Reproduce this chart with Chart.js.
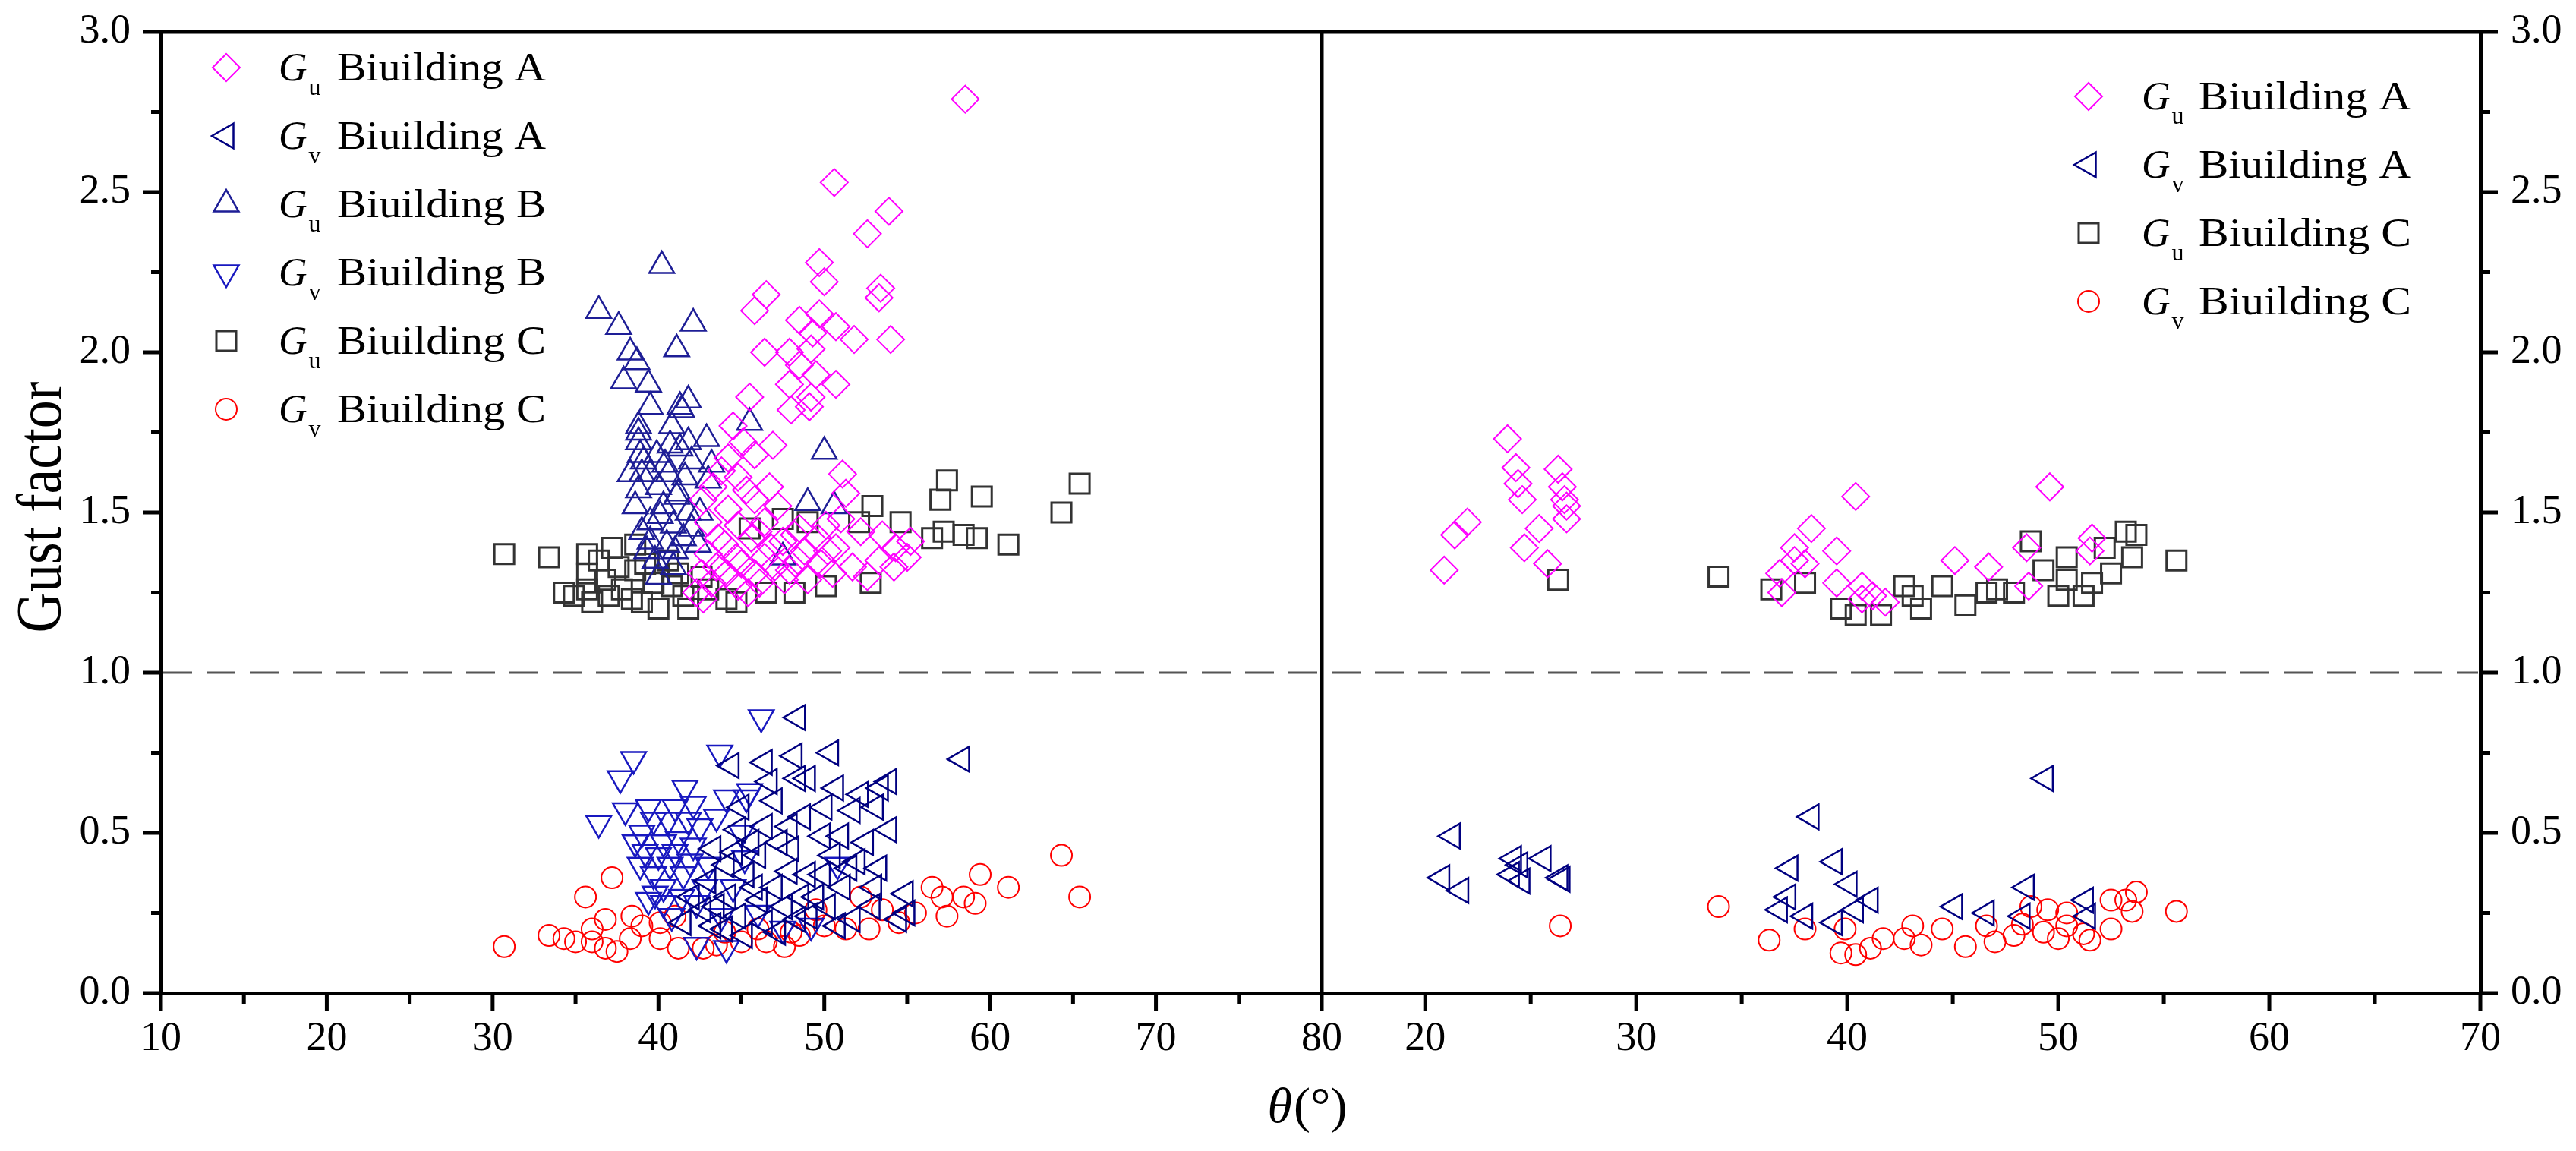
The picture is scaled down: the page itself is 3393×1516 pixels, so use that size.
<!DOCTYPE html>
<html><head><meta charset="utf-8">
<script src="https://cdn.jsdelivr.net/npm/chart.js@4.4.1/dist/chart.umd.min.js"></script>
<style>
html,body{margin:0;padding:0;background:#fff;width:3393px;height:1516px;overflow:hidden}
canvas{position:absolute;left:0;top:0}
</style></head>
<body>
<canvas id="cLeft" width="3393" height="1516"></canvas>
<canvas id="cRight" width="3393" height="1516"></canvas>
<script>
// ---------------- DATA ----------------
const leftXTicks = [10, 20, 30, 40, 50, 60, 70, 80];
const leftXMinor = [15, 25, 35, 45, 55, 65, 75];
const rightXTicks = [20, 30, 40, 50, 60, 70];
const rightXMinor = [25, 35, 45, 55, 65];
const yTicks = [0, 0.5, 1.0, 1.5, 2.0, 2.5, 3.0];
const yMinor = [0.25, 0.75, 1.25, 1.75, 2.25, 2.75];
const leftXRange = [10, 80];
const rightXRange = [15.1, 70];
const yRange = [0, 3];
const refValue = 1.0;
const yTitle = "Gust factor";
const xTitleSym = "\u03B8";
const xTitleUnit = "(\u00B0)";

const legendLeft = [["u", "Biuilding A"], ["v", "Biuilding A"], ["u", "Biuilding B"], ["v", "Biuilding B"], ["u", "Biuilding C"], ["v", "Biuilding C"]];
const legendRight = [["u", "Biuilding A"], ["v", "Biuilding A"], ["u", "Biuilding C"], ["v", "Biuilding C"]];

// Left panel: [theta, gust factor]
const L_GuA = [
 [58.5,2.79],[50.6,2.53],[53.9,2.44],[52.6,2.37],[49.7,2.28],[50.0,2.22],[53.4,2.20],[53.3,2.17],[46.5,2.18],[45.8,2.13],
 [49.7,2.12],[50.7,2.08],[48.5,2.10],[51.8,2.04],[54.0,2.04],[49.3,2.06],[46.4,2.00],[47.9,2.00],[49.2,2.01],[48.5,1.96],
 [49.5,1.93],[50.7,1.90],[47.9,1.90],[45.5,1.86],[49.2,1.86],[48.0,1.82],[49.1,1.83],[44.5,1.77],[46.9,1.71],[45.1,1.72],
 [51.1,1.62],[45.8,1.68],[44.2,1.67],[44.8,1.61],[46.7,1.58],[43.3,1.58],[42.7,1.54],[45.8,1.54],[44.2,1.51],[43.0,1.47],
 [44.8,1.46],[46.4,1.47],[48.5,1.45],[50.1,1.46],[43.6,1.42],[45.6,1.42],[47.5,1.41],[49.6,1.42],[43.0,1.37],[44.7,1.36],
 [46.4,1.36],[48.4,1.35],[42.6,1.31],[44.1,1.31],[45.8,1.31],[47.9,1.32],[42.7,1.23],[44.8,1.27],[46.1,1.28],[42.3,1.25],
 [50.2,1.38],[51.3,1.56],[52.2,1.44],[53.5,1.43],[55.2,1.41],[54.3,1.39],[55.0,1.36],[50.7,1.39],[53.3,1.35],[51.7,1.33],
 [54.2,1.33],[50.5,1.31],[52.6,1.30],[43.8,1.63],[45.3,1.57],[47.2,1.52],[46.0,1.44],[47.0,1.33],[48.8,1.38],[49.0,1.29],
 [51.0,1.48],[44.0,1.40],[43.2,1.28],[45.0,1.34],[46.8,1.39],[48.2,1.43],[43.5,1.33],[47.6,1.29],[49.8,1.34],[45.4,1.25]
];
const L_GvA = [
 [48.4,0.86],[44.4,0.71],[48.2,0.74],[46.4,0.72],[46.7,0.66],[48.4,0.67],[46.4,0.52],[47.9,0.52],[44.8,0.51],[43.3,0.45],
 [45.6,0.47],[48.0,0.45],[44.1,0.40],[45.3,0.37],[47.9,0.38],[43.0,0.35],[44.2,0.30],[46.1,0.29],[47.6,0.27],[42.7,0.26],
 [44.8,0.24],[46.4,0.22],[48.4,0.23],[43.3,0.21],[45.2,0.18],[50.4,0.75],[58.3,0.73],[53.9,0.66],[53.4,0.64],[50.7,0.64],
 [49.0,0.67],[51.7,0.57],[53.1,0.58],[53.9,0.51],[49.9,0.49],[51.0,0.49],[48.7,0.55],[52.0,0.41],[53.3,0.39],[49.9,0.37],
 [51.1,0.33],[54.9,0.31],[52.9,0.27],[54.5,0.23],[50.2,0.27],[49.1,0.24],[51.7,0.23],[49.0,0.37],[45.0,0.58],[47.0,0.60],
 [46.0,0.43],[47.0,0.33],[42.0,0.30],[43.5,0.27],[50.5,0.43],[52.5,0.47],[49.5,0.30],[53.0,0.33],[55.0,0.25],[41.5,0.22],
 [44.0,0.20],[47.3,0.47],[50.0,0.58],[52.2,0.62],[45.8,0.33],[48.6,0.30],[51.5,0.39],[44.6,0.44],[50.8,0.21],[47.2,0.19]
];
const L_GuB = [
 [40.2,2.27],[36.4,2.13],[37.6,2.08],[42.1,2.09],[41.1,2.01],[38.3,2.00],[38.7,1.97],[37.9,1.91],[39.4,1.90],[39.5,1.83],
 [41.3,1.83],[41.8,1.85],[38.8,1.77],[40.8,1.77],[42.9,1.73],[38.8,1.72],[39.9,1.68],[41.3,1.70],[39.0,1.62],[40.6,1.62],
 [50.0,1.69],[45.5,1.78],[38.8,1.57],[41.1,1.55],[49.0,1.53],[50.6,1.52],[41.4,1.82],[38.8,1.75],[40.7,1.71],[41.8,1.72],
 [39.1,1.66],[40.4,1.65],[42.0,1.66],[43.2,1.65],[39.5,1.62],[41.2,1.56],[40.0,1.58],[38.6,1.52],[40.3,1.52],[39.5,1.47],
 [40.9,1.46],[39.5,1.41],[41.5,1.42],[39.8,1.35],[47.5,1.36],[40.0,1.30],[41.0,1.38],[42.0,1.45],[43.0,1.60],[42.5,1.50],
 [39.0,1.44],[40.5,1.40],[41.8,1.50],[38.3,1.62],[40.1,1.49],[41.6,1.61],[39.3,1.38],[42.4,1.40],[38.9,1.68],[40.9,1.33]
];
const L_GvB = [
 [46.2,0.86],[38.5,0.73],[37.7,0.67],[43.7,0.75],[41.6,0.64],[44.1,0.61],[45.3,0.61],[36.4,0.53],[38.0,0.57],[39.4,0.58],
 [41.0,0.58],[42.1,0.59],[41.8,0.54],[40.6,0.54],[39.7,0.54],[38.6,0.47],[40.3,0.47],[41.2,0.48],[42.1,0.46],[38.9,0.40],
 [39.7,0.37],[40.7,0.40],[41.5,0.37],[39.4,0.29],[40.3,0.33],[41.4,0.30],[42.3,0.15],[44.1,0.14],[42.3,0.28],[40.3,0.28],
 [50.8,0.40],[49.2,0.21],[45.5,0.63],[43.0,0.40],[44.5,0.33],[46.0,0.25],[47.5,0.20],[45.0,0.50],[39.0,0.50],[40.0,0.43],
 [42.5,0.52],[43.5,0.55],[39.2,0.44],[41.0,0.44],[42.8,0.33],[43.8,0.24],[40.8,0.24],[45.2,0.42],[41.9,0.41],[39.8,0.31]
];
const L_GuC = [
 [30.7,1.37],[33.4,1.36],[34.3,1.25],[35.7,1.37],[37.2,1.39],[36.0,1.22],[35.7,1.31],[36.8,1.29],[35.7,1.26],[37.0,1.24],
 [38.6,1.40],[38.6,1.32],[38.4,1.23],[40.0,1.20],[41.2,1.31],[41.8,1.20],[39.7,1.28],[44.7,1.22],[44.1,1.23],[48.2,1.25],
 [50.1,1.27],[47.5,1.48],[42.6,1.30],[40.6,1.35],[37.8,1.26],[52.9,1.52],[57.4,1.60],[57.0,1.54],[59.5,1.55],[65.4,1.59],
 [64.3,1.50],[54.6,1.47],[52.1,1.47],[57.2,1.44],[58.4,1.43],[59.2,1.42],[56.5,1.42],[61.1,1.40],[52.8,1.28],[39.2,1.34],
 [40.8,1.27],[43.0,1.26],[34.9,1.24],[46.5,1.25],[45.5,1.45],[49.0,1.47],[37.6,1.33],[39.0,1.22],[36.4,1.35],[41.5,1.24]
];
const L_GvC = [
 [30.7,0.145],[37.2,0.36],[35.6,0.30],[33.4,0.18],[34.3,0.17],[36.0,0.20],[36.8,0.23],[38.4,0.24],[36.8,0.14],[37.5,0.13],
 [36.0,0.16],[38.3,0.17],[39.0,0.21],[40.1,0.22],[40.1,0.17],[41.2,0.14],[42.7,0.14],[43.5,0.15],[45.0,0.16],[46.5,0.16],
 [47.6,0.145],[48.0,0.19],[41.0,0.24],[56.5,0.33],[57.1,0.30],[57.4,0.24],[58.4,0.30],[59.1,0.28],[59.4,0.37],[61.1,0.33],
 [64.3,0.43],[65.4,0.30],[51.3,0.20],[52.7,0.20],[52.2,0.30],[54.5,0.22],[48.5,0.18],[50.0,0.21],[44.0,0.19],[46.0,0.20],
 [49.5,0.26],[55.5,0.25],[53.5,0.26],[35.0,0.16]
];

// Right panel
const R_GuA = [
 [23.9,1.73],[24.3,1.64],[24.4,1.59],[24.6,1.54],[26.3,1.635],[26.5,1.58],[26.6,1.54],[26.7,1.52],[26.7,1.48],[25.4,1.45],
 [24.7,1.39],[25.8,1.34],[22.0,1.47],[20.9,1.32],[21.4,1.43],[40.4,1.55],[38.3,1.45],[37.5,1.39],[39.5,1.38],[37.5,1.35],
 [38.0,1.34],[36.8,1.31],[36.9,1.25],[39.5,1.28],[40.7,1.27],[40.7,1.23],[41.2,1.24],[41.8,1.22],[45.1,1.35],[46.7,1.33],
 [49.6,1.58],[48.5,1.39],[48.6,1.27],[51.6,1.42],[51.5,1.38]
];
const R_GvA = [
 [49.4,0.67],[38.3,0.55],[37.3,0.39],[39.4,0.41],[37.2,0.30],[36.8,0.26],[38.0,0.24],[40.1,0.34],[41.1,0.29],[40.4,0.26],
 [39.4,0.22],[45.1,0.27],[46.6,0.25],[48.5,0.33],[48.3,0.24],[51.3,0.29],[51.4,0.24],[21.3,0.49],[20.8,0.36],[21.7,0.32],
 [24.2,0.42],[24.5,0.40],[25.6,0.42],[26.4,0.36],[24.1,0.37],[24.6,0.35],[26.5,0.355]
];
const R_GuC = [
 [26.3,1.29],[33.9,1.30],[36.4,1.26],[38.0,1.28],[39.7,1.20],[40.4,1.18],[41.6,1.18],[42.7,1.27],[43.1,1.24],[43.5,1.20],
 [44.5,1.27],[45.6,1.21],[46.6,1.25],[47.1,1.26],[47.9,1.25],[48.7,1.41],[49.3,1.32],[50.0,1.24],[50.4,1.36],[50.4,1.29],
 [51.2,1.24],[52.2,1.39],[52.5,1.31],[53.2,1.44],[53.7,1.43],[53.5,1.36],[55.6,1.35],[51.6,1.28]
];
const R_GvC = [
 [26.4,0.21],[33.9,0.27],[36.3,0.165],[38.0,0.20],[39.7,0.125],[40.4,0.12],[41.1,0.14],[39.9,0.20],[41.7,0.17],[42.7,0.17],
 [43.1,0.21],[43.5,0.15],[44.5,0.20],[45.6,0.145],[46.6,0.21],[47.0,0.16],[47.9,0.18],[48.3,0.215],[48.7,0.27],[49.3,0.19],
 [49.5,0.26],[50.0,0.17],[50.4,0.25],[50.4,0.21],[51.2,0.185],[51.5,0.165],[52.5,0.20],[52.5,0.29],[53.2,0.29],[53.5,0.255],
 [53.7,0.315],[55.6,0.255]
];

// ---------------- STYLE / LAYOUT ----------------
const W = 3393, H = 1516;
const PLOT = {left: 212, mid: 1741, right: 3267, top: 42, bottom: 1308};
const FONT = "'Liberation Serif', 'Times New Roman', serif";
const STY = {
  GuA: {pointStyle: 'rectRot', radius: 18, rotation: 0, color: '#FF00FF', width: 2},
  GvA: {pointStyle: 'triangle', radius: 19, rotation: 270, color: '#000080', width: 2.5},
  GuB: {pointStyle: 'triangle', radius: 19, rotation: 0, color: '#1E1E96', width: 2.5},
  GvB: {pointStyle: 'triangle', radius: 19, rotation: 180, color: '#1818C0', width: 2.5},
  GuC: {pointStyle: 'rect', radius: 18.4, rotation: 0, color: '#333333', width: 3},
  GvC: {pointStyle: 'circle', radius: 14, rotation: 0, color: '#FF0000', width: 2}
};
const toXY = a => a.map(p => ({x: p[0], y: p[1]}));
function ds(key, arr) {
  const s = STY[key];
  return {label: key, data: toXY(arr), showLine: false, pointStyle: s.pointStyle, pointRadius: s.radius,
    pointHoverRadius: s.radius, pointRotation: s.rotation, borderColor: s.color, backgroundColor: 'rgba(0,0,0,0)',
    pointBorderWidth: s.width, borderWidth: s.width};
}

function drawMarker(ctx, key, x, y) {
  const s = STY[key];
  ctx.save();
  ctx.strokeStyle = s.color; ctx.fillStyle = 'rgba(0,0,0,0)'; ctx.lineWidth = s.width;
  Chart.helpers.drawPoint(ctx, {pointStyle: s.pointStyle, rotation: s.rotation, radius: s.radius, borderWidth: s.width}, x, y);
  ctx.restore();
}

function drawLegend(ctx, keys, items, mx, gx, y0, dy, tx0, tx1) {
  items.forEach((it, i) => {
    const cy = y0 + i * dy;
    drawMarker(ctx, keys[i], mx, cy);
    const base = cy + 17;
    ctx.save();
    ctx.fillStyle = '#000'; ctx.textBaseline = 'alphabetic'; ctx.textAlign = 'left';
    ctx.font = "italic 52px " + FONT;
    ctx.fillText('G', gx, base);
    const gw = ctx.measureText('G').width;
    ctx.font = "32px " + FONT;
    ctx.fillText(it[0], gx + gw + 2, base + 19);
    ctx.font = "52px " + FONT;
    const w = ctx.measureText(it[1]).width;
    const sx = (tx1 - tx0) / w;
    ctx.translate(tx0, base); ctx.scale(sx, 1);
    ctx.fillText(it[1], 0, 0);
    ctx.restore();
  });
}

function drawTicks(chart, xMajor, xMinor, ySide) {
  const ctx = chart.ctx, xs = chart.scales.x, ys = chart.scales.y;
  ctx.save();
  ctx.strokeStyle = '#000'; ctx.lineWidth = 5;
  ctx.beginPath();
  const b = chart.chartArea.bottom;
  xMajor.forEach(v => { const p = xs.getPixelForValue(v); ctx.moveTo(p, b); ctx.lineTo(p, b + 24); });
  xMinor.forEach(v => { const p = xs.getPixelForValue(v); ctx.moveTo(p, b); ctx.lineTo(p, b + 14); });
  const ax = ySide === 'left' ? chart.chartArea.left : chart.chartArea.right;
  const sgn = ySide === 'left' ? -1 : 1;
  yTicks.forEach(v => { const p = ys.getPixelForValue(v); ctx.moveTo(ax, p); ctx.lineTo(ax + sgn * 23, p); });
  yMinor.forEach(v => { const p = ys.getPixelForValue(v); ctx.moveTo(ax, p); ctx.lineTo(ax + sgn * 13, p); });
  ctx.stroke();
  ctx.restore();
}

const tickFont = {family: FONT, size: 54};

function makeScales(xTicks, xRange, ySide) {
  return {
    x: {
      type: 'linear', position: 'bottom', min: xRange[0], max: xRange[1],
      afterBuildTicks: s => { s.ticks = xTicks.map(v => ({value: v})); },
      afterFit: s => { s.height = H - PLOT.bottom; s.paddingLeft = 0; s.paddingRight = 0; s.paddingTop = 0; s.paddingBottom = 0; },
      grid: {display: false, drawTicks: false},
      border: {display: true, color: '#000', width: 5},
      ticks: {padding: 28, font: tickFont, color: '#000', maxRotation: 0, autoSkip: false, callback: v => String(v)}
    },
    y: {
      type: 'linear', position: ySide, min: yRange[0], max: yRange[1],
      afterBuildTicks: s => { s.ticks = yTicks.map(v => ({value: v})); },
      afterFit: s => { s.width = ySide === 'left' ? PLOT.left : (W - PLOT.right); s.paddingTop = 0; s.paddingBottom = 0; s.paddingLeft = 0; s.paddingRight = 0; },
      grid: {display: false, drawTicks: false},
      border: {display: true, color: '#000', width: 5},
      ticks: {padding: 40, font: tickFont, color: '#000', autoSkip: false, callback: v => Number(v).toFixed(1)}
    }
  };
}

const decoLeft = {
  id: 'decoLeft',
  beforeDatasetsDraw(chart) {
    const ctx = chart.ctx, py = chart.scales.y.getPixelForValue(refValue);
    ctx.save();
    ctx.strokeStyle = '#555'; ctx.lineWidth = 3; ctx.setLineDash([38, 19]);
    ctx.beginPath(); ctx.moveTo(PLOT.left + 3, py); ctx.lineTo(PLOT.right - 3, py); ctx.stroke();
    ctx.restore();
  },
  afterDraw(chart) {
    const ctx = chart.ctx;
    const ca = chart.chartArea;
    drawTicks(chart, leftXTicks, leftXMinor, 'left');
    ctx.save();
    ctx.strokeStyle = '#000'; ctx.lineWidth = 5;
    ctx.beginPath();
    ctx.moveTo(ca.left - 2, ca.top); ctx.lineTo(PLOT.right + 2, ca.top);
    ctx.moveTo(ca.right, ca.top); ctx.lineTo(ca.right, ca.bottom);
    ctx.stroke();
    ctx.restore();
    // y title
    ctx.save();
    ctx.fillStyle = '#000';
    ctx.font = "74px " + FONT;
    ctx.textAlign = 'center'; ctx.textBaseline = 'alphabetic';
    ctx.translate(80, 668); ctx.rotate(-Math.PI / 2); ctx.scale(1, 1.15);
    ctx.fillText(yTitle, 0, 0);
    ctx.restore();
    // x title
    ctx.save();
    ctx.fillStyle = '#000'; ctx.textBaseline = 'alphabetic'; ctx.textAlign = 'left';
    ctx.font = "italic 66px " + FONT;
    const w1 = ctx.measureText(xTitleSym).width;
    ctx.font = "66px " + FONT;
    const w2 = ctx.measureText(xTitleUnit).width;
    const x0 = 1721 - (w1 + w2) / 2;
    ctx.font = "italic 66px " + FONT;
    ctx.fillText(xTitleSym, x0, 1478);
    ctx.font = "66px " + FONT;
    ctx.fillText(xTitleUnit, x0 + w1 + 2, 1478);
    ctx.restore();
    drawLegend(ctx, ['GuA', 'GvA', 'GuB', 'GvB', 'GuC', 'GvC'], legendLeft, 298, 367, 89, 90, 444, 719);
  }
};

const decoRight = {
  id: 'decoRight',
  afterDraw(chart) {
    drawTicks(chart, rightXTicks, rightXMinor, 'right');
    drawLegend(chart.ctx, ['GuA', 'GvA', 'GuC', 'GvC'], legendRight, 2751, 2821, 127, 90, 2896, 3176);
  }
};

const commonOpts = {
  responsive: false, animation: false, devicePixelRatio: 1,
  plugins: {legend: {display: false}, tooltip: {enabled: false}, title: {display: false}},
  events: []
};

new Chart(document.getElementById('cLeft'), {
  type: 'scatter',
  data: {datasets: [ds('GuA', L_GuA), ds('GvA', L_GvA), ds('GuB', L_GuB), ds('GvB', L_GvB), ds('GuC', L_GuC), ds('GvC', L_GvC)]},
  options: Object.assign({}, commonOpts, {
    layout: {padding: {left: 0, right: W - PLOT.mid, top: PLOT.top, bottom: 0}},
    scales: makeScales(leftXTicks, leftXRange, 'left')
  }),
  plugins: [decoLeft]
});

new Chart(document.getElementById('cRight'), {
  type: 'scatter',
  data: {datasets: [ds('GuA', R_GuA), ds('GvA', R_GvA), ds('GuC', R_GuC), ds('GvC', R_GvC)]},
  options: Object.assign({}, commonOpts, {
    layout: {padding: {left: PLOT.mid, right: 0, top: PLOT.top, bottom: 0}},
    scales: makeScales(rightXTicks, rightXRange, 'right')
  }),
  plugins: [decoRight]
});
</script>
</body></html>
